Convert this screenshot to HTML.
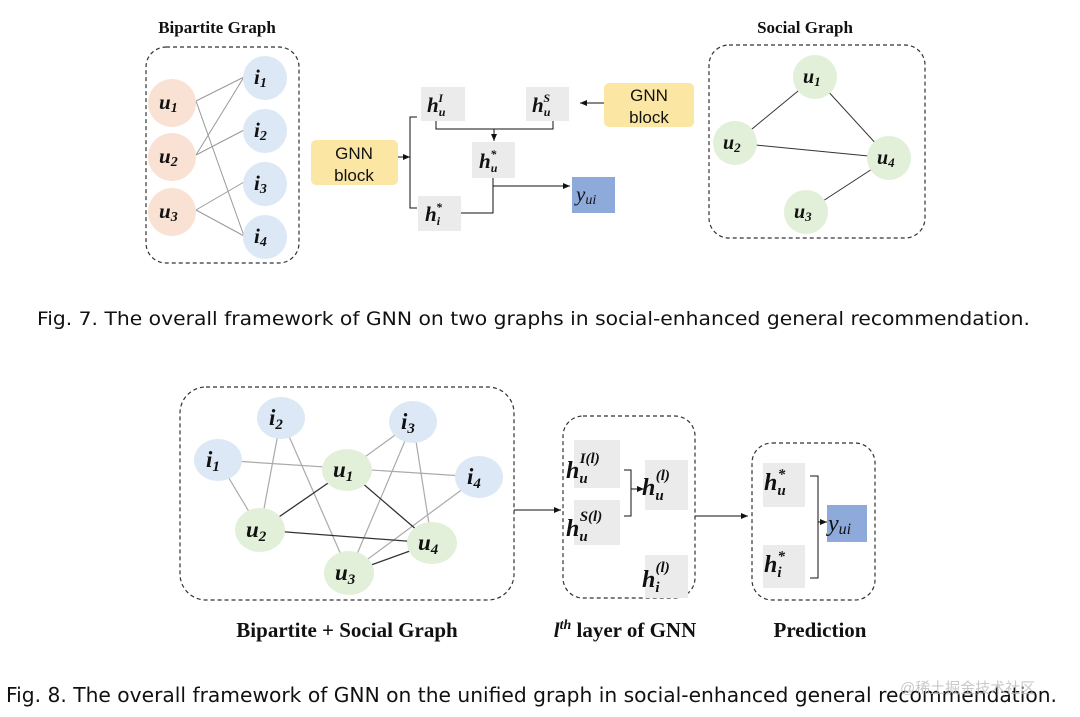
<!DOCTYPE html>
<html><head><meta charset="utf-8"><style>
html,body{margin:0;padding:0;background:#fff;}
svg{display:block;}
.m{font-family:"Liberation Serif",serif;font-weight:bold;font-style:italic;fill:#111;}
.t{font-family:"Liberation Serif",serif;font-weight:bold;fill:#111;}
.s{font-family:"Liberation Sans",sans-serif;fill:#111;}
.cap{font-family:"DejaVu Sans","Liberation Sans",sans-serif;fill:#111;}
</style></head><body>
<svg width="1080" height="717" viewBox="0 0 1080 717" xmlns="http://www.w3.org/2000/svg">
<defs><marker id="a" markerWidth="8" markerHeight="8" refX="7" refY="4" orient="auto" markerUnits="userSpaceOnUse"><path d="M0,1 L7,4 L0,7z" fill="#111"/></marker></defs>
<!-- Fig 7 left -->
<text class="t" x="217" y="33" font-size="17" text-anchor="middle">Bipartite Graph</text>
<rect x="146" y="47" width="153" height="216" rx="20" fill="none" stroke="#333" stroke-dasharray="4,3" stroke-width="1.2"/>
<g stroke="#999" stroke-width="1">
<line x1="196" y1="101" x2="244" y2="77"/><line x1="196" y1="101" x2="244" y2="236"/>
<line x1="196" y1="155" x2="244" y2="77"/><line x1="196" y1="155" x2="244" y2="130"/>
<line x1="196" y1="210" x2="244" y2="182"/><line x1="196" y1="210" x2="244" y2="236"/>
</g>
<g fill="#f9e2d4"><circle cx="172" cy="103" r="24"/><circle cx="172" cy="157" r="24"/><circle cx="172" cy="212" r="24"/></g>
<g fill="#dce8f5"><circle cx="265" cy="78" r="22"/><circle cx="265" cy="131" r="22"/><circle cx="265" cy="184" r="22"/><circle cx="265" cy="237" r="22"/></g>
<g class="m" font-size="21"><text x="159" y="109">u<tspan font-size="14" dy="3">1</tspan></text><text x="159" y="163">u<tspan font-size="14" dy="3">2</tspan></text><text x="159" y="218">u<tspan font-size="14" dy="3">3</tspan></text>
<text x="254" y="84">i<tspan font-size="14" dy="3">1</tspan></text><text x="254" y="137">i<tspan font-size="14" dy="3">2</tspan></text><text x="254" y="190">i<tspan font-size="14" dy="3">3</tspan></text><text x="254" y="243">i<tspan font-size="14" dy="3">4</tspan></text></g>
<!-- middle -->
<rect x="311" y="140" width="87" height="45" rx="5" fill="#fce6a4"/>
<text class="s" x="354" y="159" font-size="17" text-anchor="middle">GNN</text><text class="s" x="354" y="181" font-size="17" text-anchor="middle">block</text>
<line x1="398" y1="157" x2="410" y2="157" stroke="#111" marker-end="url(#a)"/>
<polyline points="417,117 410,117 410,208 417,208" fill="none" stroke="#111"/>
<rect x="421" y="87" width="44" height="34" fill="#ebebeb"/><rect x="526" y="87" width="43" height="34" fill="#ebebeb"/>
<rect x="472" y="142" width="43" height="36" fill="#ebebeb"/><rect x="418" y="196" width="43" height="35" fill="#ebebeb"/>
<rect x="572" y="177" width="43" height="36" fill="#8eaadb"/>
<rect x="604" y="83" width="90" height="44" rx="5" fill="#fce6a4"/>
<text class="s" x="649" y="101" font-size="17" text-anchor="middle">GNN</text><text class="s" x="649" y="123" font-size="17" text-anchor="middle">block</text>
<line x1="604" y1="103" x2="580" y2="103" stroke="#111" marker-end="url(#a)"/>
<polyline points="436,121 436,129 553,129 553,121" fill="none" stroke="#111"/>
<line x1="494" y1="129" x2="494" y2="141" stroke="#111" marker-end="url(#a)"/>
<polyline points="461,213 493,213 493,178" fill="none" stroke="#111"/>
<line x1="493" y1="186" x2="570" y2="186" stroke="#111" marker-end="url(#a)"/>
<g class="m" font-size="21"><text x="427" y="112">h<tspan font-size="12" dy="4">u</tspan><tspan font-size="12" dx="-7" dy="-14">I</tspan></text>
<text x="532" y="112">h<tspan font-size="12" dy="4">u</tspan><tspan font-size="12" dx="-7" dy="-14">S</tspan></text>
<text x="479" y="168">h<tspan font-size="12" dy="4">u</tspan><tspan font-size="12" dx="-7" dy="-14">*</tspan></text>
<text x="425" y="221">h<tspan font-size="12" dy="4">i</tspan><tspan font-size="12" dx="-4" dy="-14">*</tspan></text>
<text x="576" y="201" font-weight="normal">y<tspan font-size="14" dy="3">ui</tspan></text></g>
<!-- social -->
<text class="t" x="805" y="33" font-size="17" text-anchor="middle">Social Graph</text>
<rect x="709" y="45" width="216" height="193" rx="20" fill="none" stroke="#333" stroke-dasharray="4,3" stroke-width="1.2"/>
<g stroke="#333" stroke-width="1"><line x1="815" y1="77" x2="735" y2="143"/><line x1="815" y1="77" x2="889" y2="158"/><line x1="735" y1="143" x2="889" y2="158"/><line x1="889" y1="158" x2="806" y2="212"/></g>
<g fill="#e2efd9"><circle cx="815" cy="77" r="22"/><circle cx="735" cy="143" r="22"/><circle cx="889" cy="158" r="22"/><circle cx="806" cy="212" r="22"/></g>
<g class="m" font-size="20"><text x="803" y="83">u<tspan font-size="13" dy="3">1</tspan></text><text x="723" y="149">u<tspan font-size="13" dy="3">2</tspan></text><text x="877" y="164">u<tspan font-size="13" dy="3">4</tspan></text><text x="794" y="218">u<tspan font-size="13" dy="3">3</tspan></text></g>
<text class="cap" x="37" y="325" font-size="19" textLength="993" lengthAdjust="spacingAndGlyphs">Fig. 7.  The overall framework of GNN on two graphs in social-enhanced general recommendation.</text>
<!-- Fig 8 -->
<rect x="180" y="387" width="334" height="213" rx="26" fill="none" stroke="#333" stroke-dasharray="4,3" stroke-width="1.2"/>
<g stroke="#aaa" stroke-width="1.2">
<line x1="218" y1="460" x2="479" y2="477"/><line x1="218" y1="460" x2="260" y2="530"/>
<line x1="281" y1="418" x2="260" y2="530"/><line x1="281" y1="418" x2="349" y2="573"/>
<line x1="413" y1="422" x2="347" y2="470"/><line x1="413" y1="422" x2="349" y2="573"/><line x1="413" y1="422" x2="432" y2="543"/>
<line x1="479" y1="477" x2="349" y2="573"/>
</g>
<g stroke="#333" stroke-width="1.3"><line x1="347" y1="470" x2="260" y2="530"/><line x1="347" y1="470" x2="432" y2="543"/><line x1="260" y1="530" x2="432" y2="543"/><line x1="432" y1="543" x2="349" y2="573"/></g>
<g fill="#dce8f5"><ellipse cx="281" cy="418" rx="24" ry="21"/><ellipse cx="413" cy="422" rx="24" ry="21"/><ellipse cx="218" cy="460" rx="24" ry="21"/><ellipse cx="479" cy="477" rx="24" ry="21"/></g>
<g fill="#e2efd9"><ellipse cx="347" cy="470" rx="25" ry="21"/><ellipse cx="260" cy="530" rx="25" ry="22"/><ellipse cx="432" cy="543" rx="25" ry="21"/><ellipse cx="349" cy="573" rx="25" ry="22"/></g>
<g class="m" font-size="23"><text x="269" y="425">i<tspan font-size="15" dy="4">2</tspan></text><text x="401" y="429">i<tspan font-size="15" dy="4">3</tspan></text><text x="206" y="467">i<tspan font-size="15" dy="4">1</tspan></text><text x="467" y="484">i<tspan font-size="15" dy="4">4</tspan></text>
<text x="333" y="477">u<tspan font-size="15" dy="4">1</tspan></text><text x="246" y="537">u<tspan font-size="15" dy="4">2</tspan></text><text x="418" y="550">u<tspan font-size="15" dy="4">4</tspan></text><text x="335" y="580">u<tspan font-size="15" dy="4">3</tspan></text></g>
<line x1="514" y1="510" x2="561" y2="510" stroke="#111" marker-end="url(#a)"/>
<rect x="563" y="416" width="132" height="182" rx="20" fill="none" stroke="#333" stroke-dasharray="4,3" stroke-width="1.2"/>
<rect x="574" y="440" width="46" height="48" fill="#ebebeb"/><rect x="574" y="500" width="46" height="45" fill="#ebebeb"/>
<rect x="645" y="460" width="43" height="50" fill="#ebebeb"/><rect x="645" y="555" width="43" height="43" fill="#ebebeb"/>
<polyline points="624,470 631,470 631,516 624,516" fill="none" stroke="#111"/>
<line x1="631" y1="489" x2="644" y2="489" stroke="#111" marker-end="url(#a)"/>
<line x1="695" y1="516" x2="748" y2="516" stroke="#111" marker-end="url(#a)"/>
<rect x="752" y="443" width="123" height="157" rx="20" fill="none" stroke="#333" stroke-dasharray="4,3" stroke-width="1.2"/>
<rect x="763" y="463" width="42" height="44" fill="#ebebeb"/><rect x="763" y="545" width="42" height="43" fill="#ebebeb"/>
<rect x="827" y="505" width="40" height="37" fill="#8eaadb"/>
<polyline points="810,476 818,476 818,578 810,578" fill="none" stroke="#111"/>
<line x1="818" y1="522" x2="827" y2="522" stroke="#111" marker-end="url(#a)"/>
<g class="m" font-size="24"><text x="566" y="478">h<tspan font-size="15" dy="5">u</tspan><tspan font-size="15" dx="-8" dy="-20">I(l)</tspan></text>
<text x="566" y="536">h<tspan font-size="15" dy="5">u</tspan><tspan font-size="15" dx="-8" dy="-20">S(l)</tspan></text>
<text x="642" y="495">h<tspan font-size="15" dy="5">u</tspan><tspan font-size="15" dx="-8" dy="-20">(l)</tspan></text>
<text x="642" y="587">h<tspan font-size="15" dy="5">i</tspan><tspan font-size="15" dx="-4" dy="-20">(l)</tspan></text>
<text x="764" y="490">h<tspan font-size="15" dy="5">u</tspan><tspan font-size="15" dx="-8" dy="-16">*</tspan></text>
<text x="764" y="572">h<tspan font-size="15" dy="5">i</tspan><tspan font-size="15" dx="-4" dy="-16">*</tspan></text>
<text x="828" y="531" font-weight="normal">y<tspan font-size="16" dy="3">ui</tspan></text></g>
<text class="t" x="347" y="637" font-size="21" text-anchor="middle">Bipartite + Social Graph</text>
<text class="t" x="625" y="637" font-size="21" text-anchor="middle"><tspan font-style="italic">l<tspan font-size="14" dy="-8">th</tspan></tspan><tspan dy="8"> layer of GNN</tspan></text>
<text class="t" x="820" y="637" font-size="21" text-anchor="middle">Prediction</text>
<text class="cap" x="6" y="702" font-size="20" textLength="1051" lengthAdjust="spacingAndGlyphs">Fig. 8.  The overall framework of GNN on the unified graph in social-enhanced general recommendation.</text>
<text x="900" y="693" font-size="15" fill="#bbb" font-family="'Liberation Sans','Noto Sans CJK SC',sans-serif" opacity="0.8">@稀土掘金技术社区</text>
</svg>
</body></html>
